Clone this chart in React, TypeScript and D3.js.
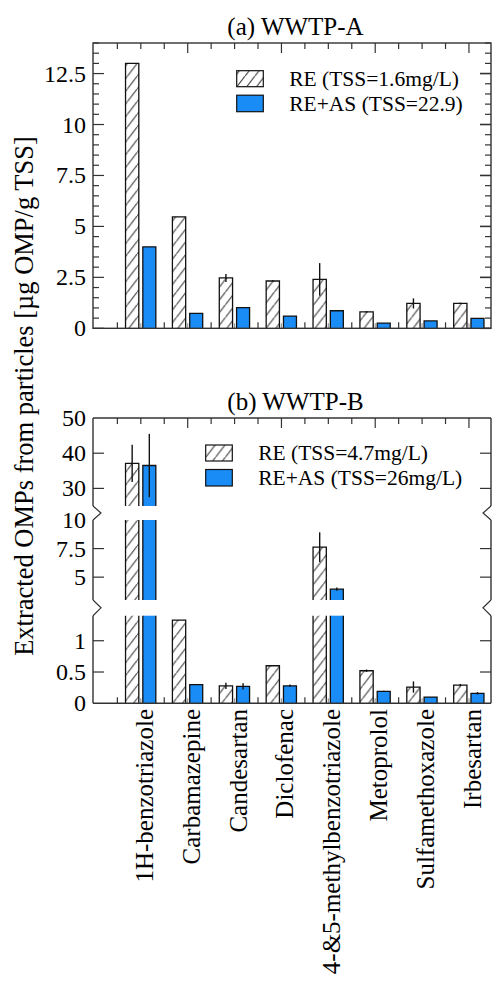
import React from 'react';
import * as d3 from 'd3';

const categories = ['1H-benzotriazole', 'Carbamazepine', 'Candesartan', 'Diclofenac', '4-&5-methylbenzotriazole', 'Metoprolol', 'Sulfamethoxazole', 'Irbesartan'];
const aRE = [13.0, 5.47, 2.47, 2.32, 2.4, 0.81, 1.22, 1.22];
const aREerr = [0, 0, 0.2, 0.04, 0.8, 0.04, 0.25, 0.04];
const aAS = [4.0, 0.73, 1.01, 0.6, 0.86, 0.25, 0.36, 0.49];
const aASerr = [0, 0, 0, 0, 0, 0, 0, 0];
const bRE = [37.1, 1.33, 0.28, 0.6, 7.62, 0.52, 0.26, 0.29];
const bREerr = [5.3, 0, 0.05, 0, 1.3, 0.02, 0.09, 0.02];
const bAS = [36.5, 0.3, 0.27, 0.28, 3.95, 0.19, 0.1, 0.16];
const bASerr = [9, 0, 0.05, 0.02, 0.15, 0.01, 0, 0.02];
const aTicks = [0, 2.5, 5, 7.5, 10, 12.5];
const aTickLabels = ['0', '2.5', '5', '7.5', '10', '12.5'];
const bSegDomains = [[0, 1.4], [3, 10], [25, 50]];
const bTicks = [[0, 0.5, 1], [5, 7.5, 10], [30, 40, 50]];
const bTickLabels = [['0', '0.5', '1'], ['5', '7.5', '10'], ['30', '40', '50']];
const legendA = ['RE (TSS=1.6mg/L)', 'RE+AS (TSS=22.9)'];
const legendB = ['RE (TSS=4.7mg/L)', 'RE+AS (TSS=26mg/L)'];
const titles = ['(a) WWTP-A', '(b) WWTP-B'];
const yLabel = 'Extracted OMPs from particles [µg OMP/g TSS]';

const FONT = '"Liberation Serif", "Times New Roman", serif';
const BLUE = '#1a8cf5';
const AX = '#333';
const L = 93, R = 491;
const T1 = 43, B1 = 328.3;
const T2 = 418, B2 = 703.3;
const segRanges = [[B2, 615.7], [600, 520], [506, T2]];

const x = d3.scaleLinear().domain([-1.02, 7.47]).range([L, R]);
const RE_OFF: [number, number] = [-0.326, -0.043];
const AS_OFF: [number, number] = [0.043, 0.32];

const yA = d3.scaleLinear().domain([0, 14]).range([B1, T1]);
const ySegs = bSegDomains.map((d, i) => d3.scaleLinear().domain(d).range(segRanges[i]));
function yB(v: number) {
  for (let i = bSegDomains.length - 1; i >= 0; i--) {
    if (v >= bSegDomains[i][0]) return ySegs[i](Math.min(v, bSegDomains[i][1]));
  }
  return ySegs[0](v);
}

const halfTicks = d3.range(-0.5, 7.01, 0.5);

function Bar({ x0, x1, pieces, fill, keyp }: { x0: number; x1: number; pieces: [number, number][]; fill: string; keyp: string }) {
  return (
    <g>
      {pieces.map(([yb, yt], k) => (
        <g key={keyp + k}>
          <rect x={x0} y={yt} width={x1 - x0} height={yb - yt} fill={fill} />
          <path
            d={`M${x0},${yb}V${yt}${k === pieces.length - 1 ? `H${x1}` : `M${x1},${yt}`}V${yb}`}
            fill="none" stroke="#111" strokeWidth={1.3}
          />
        </g>
      ))}
    </g>
  );
}

function XTicks({ top, bottom }: { top: number; bottom: number }) {
  return (
    <g>
      {halfTicks.map((t) => {
        const isInt = Math.abs(t - Math.round(t)) < 1e-6;
        const odd = isInt && Math.round(t) % 2 !== 0;
        return (
          <g key={'xt' + t}>
            <line x1={x(t)} x2={x(t)} y1={top} y2={top + (odd ? 10 : 6)} stroke={AX} strokeWidth={1.2} />
            <line x1={x(t)} x2={x(t)} y1={bottom} y2={bottom - (isInt ? 5 : 6)} stroke={isInt ? '#999' : AX} strokeWidth={1.2} />
          </g>
        );
      })}
    </g>
  );
}

function Legend({ lx, ly, labels }: { lx: number; ly: number; labels: string[] }) {
  return (
    <g>
      <rect x={lx} y={ly} width={26.6} height={16} fill="url(#hatch)" stroke="#111" strokeWidth={1.2} />
      <rect x={lx} y={ly + 24.5} width={26.6} height={16.5} fill={BLUE} stroke="#111" strokeWidth={1.2} />
      <text x={lx + 52.5} y={ly + 8} dominantBaseline="central" fontSize={21.5} fontFamily={FONT}>{labels[0]}</text>
      <text x={lx + 52.5} y={ly + 32.8} dominantBaseline="central" fontSize={21.5} fontFamily={FONT}>{labels[1]}</text>
    </g>
  );
}

function ErrBar({ cx, v, e, y }: { cx: number; v: number; e: number; y: (v: number) => number }) {
  if (!e) return null;
  return <line x1={cx} x2={cx} y1={y(v - e)} y2={y(v + e)} stroke="#111" strokeWidth={1.4} />;
}

export default function App() {
  const minorA = d3.range(0, 14.01, 0.5);
  return (
    <svg width={492} height={983} style={{ position: 'absolute', left: 0, top: 0, background: '#fff' }}>
      <defs>
        <pattern id="hatch" patternUnits="userSpaceOnUse" width={9.8} height={12.7}>
          <rect width={9.8} height={12.7} fill="#fff" />
          <path d="M-2,15.3 L11.8,-2.6" stroke="#222" strokeWidth={1} />
        </pattern>
      </defs>
      <rect x={0} y={0} width={492} height={983} fill="#fff" />

      {/* ---------- Panel A ---------- */}
      <text x={295.5} y={35} textAnchor="middle" fontSize={25} fontFamily={FONT}>{titles[0]}</text>
      {minorA.map((t) => {
        const major = aTicks.some((m) => Math.abs(m - t) < 1e-6);
        const len = major ? 11 : 6;
        return (
          <g key={'ya' + t}>
            <line x1={L} x2={L + len} y1={yA(t)} y2={yA(t)} stroke={AX} strokeWidth={1.2} />
            <line x1={R} x2={R - len} y1={yA(t)} y2={yA(t)} stroke={AX} strokeWidth={major ? 1.6 : 1.2} />
          </g>
        );
      })}
      {aTicks.map((t, i) => (
        <text key={'yal' + t} x={86} y={yA(t)} textAnchor="end" dominantBaseline="central" fontSize={24} fontFamily={FONT}>{aTickLabels[i]}</text>
      ))}
      <XTicks top={T1} bottom={B1} />
      {categories.map((c, i) => {
        const cx = x(i);
        const reX0 = x(i + RE_OFF[0]), reX1 = x(i + RE_OFF[1]);
        const asX0 = x(i + AS_OFF[0]), asX1 = x(i + AS_OFF[1]);
        return (
          <g key={'ga' + c}>
            <Bar x0={reX0} x1={reX1} pieces={[[yA(0), yA(aRE[i])]]} fill="url(#hatch)" keyp={'are' + i} />
            <Bar x0={asX0} x1={asX1} pieces={[[yA(0), yA(aAS[i])]]} fill={BLUE} keyp={'aas' + i} />
            <ErrBar cx={(reX0 + reX1) / 2} v={aRE[i]} e={aREerr[i]} y={yA} />
            <ErrBar cx={(asX0 + asX1) / 2} v={aAS[i]} e={aASerr[i]} y={yA} />
          </g>
        );
      })}
      <rect x={L} y={T1} width={R - L} height={B1 - T1} fill="none" stroke={AX} strokeWidth={1.4} />
      <Legend lx={236.7} ly={70.7} labels={legendA} />

      {/* ---------- Panel B ---------- */}
      <text x={295.5} y={410} textAnchor="middle" fontSize={25} fontFamily={FONT}>{titles[1]}</text>
      {bTicks.map((ts, s) => ts.map((t, j) => {
        const yy = ySegs[s](t);
        const edge = Math.abs(yy - segRanges[s][0]) < 1 || Math.abs(yy - segRanges[s][1]) < 1;
        return (
          <g key={'yb' + s + '-' + j}>
            {!edge && <line x1={L} x2={L + 11} y1={yy} y2={yy} stroke={AX} strokeWidth={1.2} />}
            {!edge && <line x1={R} x2={R - 11} y1={yy} y2={yy} stroke={AX} strokeWidth={1.2} />}
            <text x={86} y={yy} textAnchor="end" dominantBaseline="central" fontSize={24} fontFamily={FONT}>{bTickLabels[s][j]}</text>
          </g>
        );
      }))}
      <XTicks top={T2} bottom={B2} />
      {categories.map((c, i) => {
        const reX0 = x(i + RE_OFF[0]), reX1 = x(i + RE_OFF[1]);
        const asX0 = x(i + AS_OFF[0]), asX1 = x(i + AS_OFF[1]);
        const pieces = (v: number) =>
          bSegDomains
            .map((d, s) => (v > d[0] ? [ySegs[s](d[0]), ySegs[s](Math.min(v, d[1]))] as [number, number] : null))
            .filter((p): p is [number, number] => p !== null);
        return (
          <g key={'gb' + c}>
            <Bar x0={reX0} x1={reX1} pieces={pieces(bRE[i])} fill="url(#hatch)" keyp={'bre' + i} />
            <Bar x0={asX0} x1={asX1} pieces={pieces(bAS[i])} fill={BLUE} keyp={'bas' + i} />
            <ErrBar cx={(reX0 + reX1) / 2} v={bRE[i]} e={bREerr[i]} y={yB} />
            <ErrBar cx={(asX0 + asX1) / 2} v={bAS[i]} e={bASerr[i]} y={yB} />
          </g>
        );
      })}
      {/* frame with broken side axes */}
      <line x1={L} x2={R} y1={T2} y2={T2} stroke={AX} strokeWidth={1.4} />
      <line x1={L} x2={R} y1={B2} y2={B2} stroke={AX} strokeWidth={1.4} />
      {segRanges.map((r, s) => (
        <g key={'seg' + s}>
          <line x1={L} x2={L} y1={r[0]} y2={r[1]} stroke={AX} strokeWidth={1.4} />
          <line x1={R} x2={R} y1={r[0]} y2={r[1]} stroke={AX} strokeWidth={1.4} />
        </g>
      ))}
      {[[segRanges[1][0], segRanges[0][1]], [segRanges[2][0], segRanges[1][1]]].map(([a, b], k) => (
        <g key={'brk' + k}>
          <polyline points={`${L},${a} ${L + 8},${(a + b) / 2} ${L},${b}`} fill="none" stroke={AX} strokeWidth={1.2} />
          <polyline points={`${R},${a} ${R - 8},${(a + b) / 2} ${R},${b}`} fill="none" stroke={AX} strokeWidth={1.2} />
        </g>
      ))}
      <Legend lx={205.7} ly={445} labels={legendB} />

      {/* category labels */}
      {categories.map((c, i) => (
        <text key={'xl' + c} transform={`translate(${x(i) + 12},709) rotate(-90)`} textAnchor="end" fontSize={25} fontFamily={FONT}>{c}</text>
      ))}

      {/* y label */}
      <text transform="translate(33,396) rotate(-90)" textAnchor="middle" fontSize={26.5} fontFamily={FONT}>{yLabel}</text>
    </svg>
  );
}
